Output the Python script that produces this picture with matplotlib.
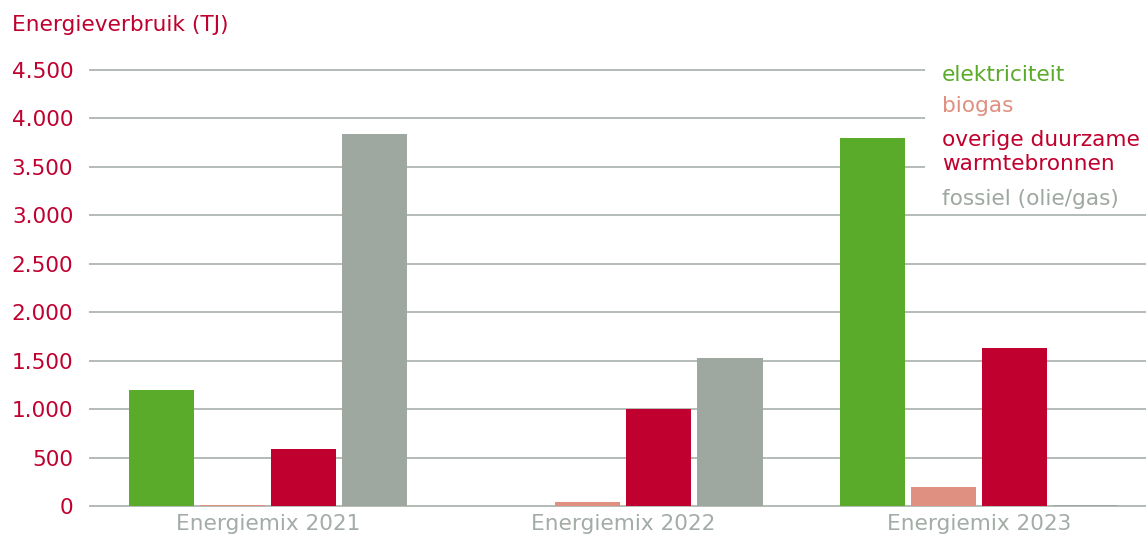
import matplotlib
matplotlib.use("Agg")
import matplotlib.pyplot as plt
import numpy as np
from matplotlib.patches import Rectangle

categories = ["Energiemix 2021", "Energiemix 2022", "Energiemix 2023"]
series = ["elektriciteit", "biogas", "overige duurzame\nwarmtebronnen", "fossiel (olie/gas)"]
elektriciteit = [1200, 0, 3800]
biogas = [10, 40, 195]
overige = [590, 1000, 1630]
fossiel = [3840, 1530, 10]
values = [elektriciteit, biogas, overige, fossiel]
colors = ["#5aab2a", "#e09080", "#c0002e", "#9fa8a0"]
yticks = [0, 500, 1000, 1500, 2000, 2500, 3000, 3500, 4000, 4500]
ytick_labels = ["0", "500", "1.000", "1.500", "2.000", "2.500", "3.000", "3.500", "4.000", "4.500"]

RED = "#c0002e"
GREY_TXT = "#a3aca6"
GRID = "#b4bbb7"
FS = 15.6

W, H = 1146, 537
fig = plt.figure(figsize=(W / 100, H / 100), dpi=100)
ax = fig.add_axes([90 / W, 1 - 506 / H, 1 - 90 / W, (506 - 70) / H])

x = np.arange(len(categories))
offsets = [-0.3, -0.1, 0.1, 0.3]
for vals, off, c in zip(values, offsets, colors):
    ax.bar(x + off, vals, width=0.183, color=c, zorder=3)

ax.set_xlim(-0.5, 2.47)
ax.set_ylim(0, 4500)
ax.set_yticks(yticks)
ax.set_yticklabels(ytick_labels, color=RED, fontsize=FS)
ax.set_xticks(x)
ax.set_xticklabels(categories, color=GREY_TXT, fontsize=FS)
ax.tick_params(axis="y", length=0, pad=12)
ax.tick_params(axis="x", length=0, pad=6)
ax.grid(axis="y", color=GRID, linewidth=1.4, zorder=0)
for gl in ax.yaxis.get_gridlines():
    gl.set_clip_on(False)
ax.set_axisbelow(True)
for s in ax.spines.values():
    s.set_visible(False)

fig.text(12 / W, 1 - 25 / H, "Energieverbruik (TJ)", color=RED, fontsize=FS,
         ha="left", va="center")

# legend box (white background covering gridlines)
fig.patches.append(Rectangle((925 / W, 1 - 210 / H), (W - 925) / W, 150 / H,
                             transform=fig.transFigure, facecolor="white",
                             edgecolor="none", zorder=1))
legend_y = [75, 106, 152.5, 199]
for name, c, yy in zip(series, colors, legend_y):
    fig.text(942 / W, 1 - yy / H, name, color=c, fontsize=FS, ha="left",
             va="center", linespacing=1.25, zorder=4)

fig.savefig("out.png", dpi=100)
